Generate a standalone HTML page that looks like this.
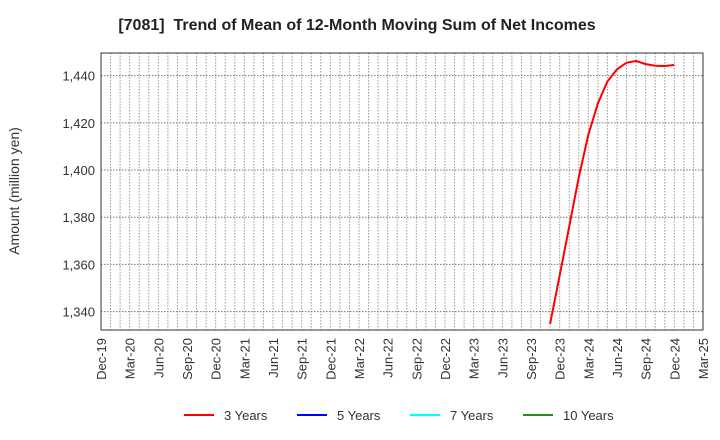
<!DOCTYPE html>
<html><head><meta charset="utf-8"><style>
body{margin:0;background:#fff}
svg{display:block;font-family:"Liberation Sans",sans-serif}
</style></head><body>
<svg id="chart" width="720" height="440">
<text x="357" y="30" text-anchor="middle" font-size="16" font-weight="bold" fill="#222" xml:space="preserve">[7081]  Trend of Mean of 12-Month Moving Sum of Net Incomes</text>
<g id="grid"></g>
<g id="yticks"></g>
<g id="xticks"></g>
<rect x="101" y="53" width="602" height="277" fill="none" stroke="#333" stroke-width="1"/>
<text transform="translate(19,191) rotate(-90)" text-anchor="middle" font-size="14" fill="#333">Amount (million yen)</text>
<g id="series"></g>
<g id="legend"></g>
</svg>
<script>
const months = ["Nov-23","Dec-23","Jan-24","Feb-24","Mar-24","Apr-24","May-24","Jun-24","Jul-24","Aug-24","Sep-24","Oct-24","Nov-24","Dec-24"];
const monthIndex = [47,48,49,50,51,52,53,54,55,56,57,58,59,60];
const values3y = [1334.8,1355.4,1376.0,1397.0,1414.9,1428.3,1437.5,1442.7,1445.5,1446.2,1444.9,1444.2,1444.1,1444.5];
const yTicks = [1340,1360,1380,1400,1420,1440];
const xTickLabels = ["Dec-19","Mar-20","Jun-20","Sep-20","Dec-20","Mar-21","Jun-21","Sep-21","Dec-21","Mar-22","Jun-22","Sep-22","Dec-22","Mar-23","Jun-23","Sep-23","Dec-23","Mar-24","Jun-24","Sep-24","Dec-24","Mar-25"];
const legendLabels = ["3 Years","5 Years","7 Years","10 Years"];
const legendColors = ["#ff0000","#0000ff","#00ffff","#228b22"];

const NS="http://www.w3.org/2000/svg";
const L=101,R=703,T=53,B=330,YMIN=1332.2,YMAX=1449.6,NM=63;
const xS=m=>L+(R-L)*m/NM;
const yS=v=>B-(B-T)*(v-YMIN)/(YMAX-YMIN);
function mk(tag,attrs,parent){const e=document.createElementNS(NS,tag);for(const k in attrs)e.setAttribute(k,attrs[k]);parent.appendChild(e);return e;}
const grid=document.getElementById('grid'),yt=document.getElementById('yticks'),xt=document.getElementById('xticks'),se=document.getElementById('series'),lg=document.getElementById('legend');
for(let m=1;m<NM;m++){
  const l=mk('line',{x1:xS(m),x2:xS(m),y1:T,y2:B,stroke:'#999','stroke-dasharray':'1.5,1.5','stroke-width':1},grid);
  
  
}
yTicks.forEach(v=>{
  const y=yS(v);
  const l=mk('line',{x1:L,x2:R,y1:y,y2:y,stroke:'#777','stroke-dasharray':'1.5,1.5','stroke-width':1},grid);
  
  
  const t=mk('text',{x:L-6,y:y+5,'text-anchor':'end','font-size':13,fill:'#333'},yt);
  t.textContent=v.toLocaleString('en-US');
  
  
});
xTickLabels.forEach((s,i)=>{
  const x=xS(i*3);
  const t=mk('text',{transform:`translate(${x+5},${B+8}) rotate(-90)`,'text-anchor':'end','font-size':13,fill:'#333'},xt);
  t.textContent=s;
  
  
});
const pts=values3y.map((v,i)=>xS(monthIndex[i]).toFixed(1)+','+yS(v).toFixed(1)).join(' ');
const pl=mk('polyline',{points:pts,fill:'none',stroke:'#ff0000','stroke-width':2},se);


const lx=[184,297,410,523];
legendLabels.forEach((s,i)=>{
  const g=mk('g',{},lg);
  
  
  mk('line',{x1:lx[i],x2:lx[i]+30,y1:415,y2:415,stroke:legendColors[i],'stroke-width':2},g);
  const t=mk('text',{x:lx[i]+40,y:420,'font-size':13,fill:'#333'},g);
  t.textContent=s;
});
</script>
</body></html>
